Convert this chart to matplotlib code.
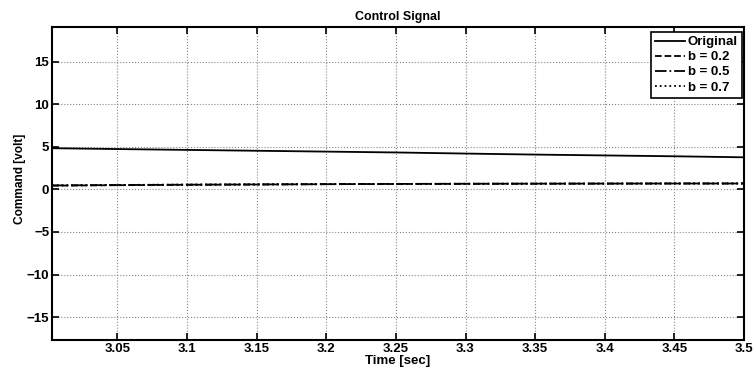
import matplotlib
matplotlib.use("Agg")
import matplotlib.pyplot as plt

plt.rcParams['font.family'] = ['Liberation Sans', 'DejaVu Sans']
plt.rcParams['font.weight'] = 'bold'

t = [3.003, 3.05, 3.1, 3.15, 3.2, 3.25, 3.3, 3.35, 3.4, 3.45, 3.5]
original = [4.85, 4.75, 4.65, 4.55, 4.45, 4.35, 4.22, 4.1, 4.0, 3.9, 3.78]
b02 = [0.45, 0.5, 0.55, 0.58, 0.62, 0.64, 0.66, 0.68, 0.69, 0.7, 0.7]
b05 = [0.47, 0.52, 0.56, 0.59, 0.62, 0.65, 0.67, 0.68, 0.69, 0.7, 0.7]
b07 = [0.48, 0.53, 0.57, 0.6, 0.63, 0.65, 0.67, 0.68, 0.69, 0.7, 0.71]

xticks = [3.05, 3.1, 3.15, 3.2, 3.25, 3.3, 3.35, 3.4, 3.45, 3.5]
xticklabels = ['3.05', '3.1', '3.15', '3.2', '3.25', '3.3', '3.35', '3.4', '3.45', '3.5']
yticks = [-15, -10, -5, 0, 5, 10, 15]

fig = plt.figure(figsize=(7.54, 3.72), dpi=100)
ax = fig.add_axes([52/754, 1 - 340/372, (744-52)/754, (340-27)/372])

ax.plot(t, original, 'k-', lw=1.3, label='Original')
ax.plot(t, b02, 'k--', lw=1.3, label='b = 0.2')
ax.plot(t, b05, 'k-.', lw=1.3, label='b = 0.5')
ax.plot(t, b07, 'k:', lw=1.3, label='b = 0.7')

ax.set_xlim(3.003, 3.5)
ax.set_ylim(-17.7, 19.1)
ax.set_xticks(xticks)
ax.set_xticklabels(xticklabels)
ax.set_yticks(yticks)
ax.grid(True, color='#888888', linestyle=':', linewidth=0.8)
ax.tick_params(direction='in', top=True, right=True, labelsize=9.5, length=5, width=1.2, pad=2)
for s in ax.spines.values():
    s.set_linewidth(1.5)

ax.set_title('Control Signal', fontsize=9, fontweight='bold', pad=5)
ax.set_xlabel('Time [sec]', fontsize=9.5, fontweight='bold', labelpad=0)
ax.set_ylabel('Command [volt]', fontsize=8.6, fontweight='bold')
ax.yaxis.set_label_coords(-0.037, 0.514)

leg = ax.legend(loc='upper right', fontsize=9.5, fancybox=False, framealpha=1,
                edgecolor='black', borderpad=0.3, labelspacing=0.22,
                handlelength=2.3, handletextpad=0.2, borderaxespad=0,
                bbox_to_anchor=(1 - 2/692, 1 - 5/313))
leg.get_frame().set_linewidth(1.2)

fig.savefig('out.png', dpi=100)
